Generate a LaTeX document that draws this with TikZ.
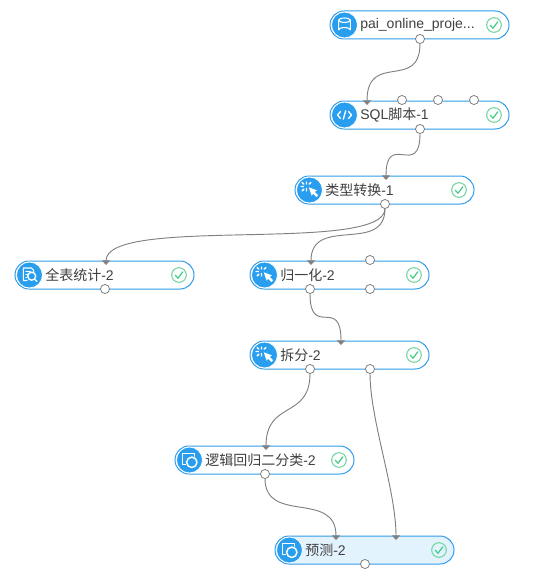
\documentclass[tikz,border=0pt]{standalone}
\usepackage{fontspec}
\setmainfont{Liberation Sans}
\newfontfamily\cjk{Noto Sans CJK SC}
\usetikzlibrary{arrows.meta,shapes.misc}
\definecolor{modblue}{HTML}{2F9CEB}
\definecolor{iconblue}{HTML}{2A9EEE}
\definecolor{wire}{HTML}{808080}
\definecolor{okgreen}{HTML}{3FCB85}
\definecolor{okring}{HTML}{74D5A0}
\definecolor{selfill}{HTML}{E3F3FE}
\definecolor{txt}{HTML}{404040}
\tikzset{
  x=0.75pt,y=-0.75pt,
  modbox/.style={rounded rectangle,draw=modblue,line width=0.75pt,fill=white,minimum width=134.25pt,minimum height=21pt,inner sep=0pt,outer sep=0pt},
  modsel/.style={modbox,fill=selfill},
  iconbg/.style={circle,fill=iconblue,draw=white,line width=0.6pt,minimum size=19.5pt,inner sep=0pt},
  modlabel/.style={anchor=west,inner sep=0pt,text=txt,font=\fontsize{10.5pt}{12pt}\selectfont},
  okmark/.style={circle,draw=okring,line width=0.8pt,minimum size=11pt,inner sep=0pt},
  port/.style={circle,draw=wire,fill=white,line width=0.6pt,minimum size=6.8pt,inner sep=0pt,outer sep=0pt},
  conn/.style={draw=wire,line width=0.7pt,-{Triangle[width=6pt,length=3.4pt,fill=wire]}},
  ico/.style={draw=white,line width=0.8pt,line cap=round,line join=round},
}
% #1 name, #2 left x, #3 centre y, #4 text, #5 icon, #6 box style
\newcommand\modul[6]{%
  \node[#6] (#1) at (#2+89.5,#3) {};
  \node[iconbg] (#1-i) at (#2+14.5,#3) {};
  \begin{scope}[shift={(#2+14.5,#3)}]#5\end{scope}
  \node[modlabel] (#1-t) at (#2+30,#3) {#4};
  \node[okmark] (#1-k) at (#2+164,#3) {};
  \draw[okgreen,line width=0.9pt,line cap=round,line join=round] (#2+160.3,#3+0.3) -- (#2+163,#3+3.2) -- (#2+167.8,#3-3.2);
}
\newcommand\icodb{%
  \draw[ico] (-5.8,-4.8) -- (-5.8,4.8) arc[start angle=180,end angle=360,x radius=5.8,y radius=2.2] -- (5.8,-4.8);
  \draw[ico] (0,-4.8) ellipse[x radius=5.8,y radius=2.2];
}
\newcommand\icocode{%
  \draw[ico,line width=1pt] (-4,-3.5) -- (-7,0) -- (-4,3.5);
  \draw[ico,line width=1pt] (4,-3.5) -- (7,0) -- (4,3.5);
  \draw[ico,line width=1pt] (1.2,-4.2) -- (-1.2,4.2);
}
\newcommand\icoclick{%
  \fill[white] (-0.7,-2.7) -- (7.4,0.4) -- (5.2,1.9) -- (8.6,5.2) -- (6.8,7) -- (3.5,3.7) -- (2.2,5.8) -- cycle;
  \draw[ico,line width=1.1pt] (-3,-8) -- (-3,-6) (-3,-1.5) -- (-3,0.8) (-8.5,-3.5) -- (-6,-3.5) (-7.3,-7.5) -- (-5.6,-5.8) (-7.3,0.8) -- (-5.6,-0.9) (1.3,-7.5) -- (-0.4,-5.8);
}
\newcommand\icosearch{%
  \draw[ico] (-2.5,5.5) -- (-6.2,5.5) -- (-6.2,-7) -- (2,-7) -- (4.2,-4.5) -- (4.2,-2.5);
  \draw[ico] (-3.7,-3.5) -- (0.8,-3.5) (-3.7,-0.5) -- (-2,-0.5) (-3.7,2.5) -- (-2.8,2.5);
  \draw[ico,line width=1pt] (2.2,1.2) circle[radius=4] (5.1,4.1) -- (7.5,6.5);
}
\newcommand\icomodel{%
  \draw[ico,line width=0.9pt] (-2.5,4.5) -- (-6.7,4.5) -- (-6.7,-6.2) -- (4.7,-6.2) -- (4.7,-2.5);
  \fill[iconblue] (2.3,2.3) circle[radius=6.2];
  \draw[ico,line width=1.1pt] (2.3,2.3) circle[radius=5.2];
}
\begin{document}
\begin{tikzpicture}
\useasboundingbox (0,0) rectangle (559,585);
\modul{pai}{330}{25}{pai\_online\_proje...}{\icodb}{modbox}
\modul{sql}{330}{115}{SQL{\cjk 脚本}-1}{\icocode}{modbox}
\modul{lx}{295}{190}{{\cjk 类型转换}-1}{\icoclick}{modbox}
\modul{qb}{15}{275}{{\cjk 全表统计}-2}{\icosearch}{modbox}
\modul{gy}{250}{275}{{\cjk 归一化}-2}{\icoclick}{modbox}
\modul{cf}{250}{355}{{\cjk 拆分}-2}{\icoclick}{modbox}
\modul{lj}{175}{460}{{\cjk 逻辑回归二分类}-2}{\icomodel}{modbox}
\modul{yc}{275}{550}{{\cjk 预测}-2}{\icomodel}{modsel}
% input points
\coordinate (sql-in) at (367,105);
\coordinate (lx-in) at (386,180);
\coordinate (qb-in) at (106,265);
\coordinate (gy-in) at (311,265);
\coordinate (cf-in) at (341,345);
\coordinate (lj-in) at (266,450);
\coordinate (yc-a) at (336,540);
\coordinate (yc-b) at (396,540);
% ports
\node[port] (pai-o) at (420,39) {};
\node[port] (sql-a) at (402,100) {};
\node[port] (sql-b) at (438,100) {};
\node[port] (sql-c) at (474,100) {};
\node[port] (sql-o) at (420,129) {};
\node[port] (lx-o) at (385,204) {};
\node[port] (qb-o) at (105,289) {};
\node[port] (gy-t) at (370,260) {};
\node[port] (gy-o1) at (310,289) {};
\node[port] (gy-o2) at (370,289) {};
\node[port] (cf-o1) at (310,369) {};
\node[port] (cf-o2) at (370,369) {};
\node[port] (lj-o) at (265,474) {};
\node[port] (yc-o) at (365,564) {};
% connectors
\draw[conn] (pai-o.south) .. controls +(0,48) and +(0,-54) .. (sql-in);
\draw[conn] (sql-o.south) .. controls +(0,46) and +(0,-50) .. (lx-in);
\draw[conn] (lx-o.south) .. controls +(0,46) and +(0,-50) .. (qb-in);
\draw[conn] (lx-o.south) .. controls +(0,46) and +(0,-50) .. (gy-in);
\draw[conn] (gy-o1.south) .. controls +(0,46) and +(0,-50) .. (cf-in);
\draw[conn] (cf-o1.south) .. controls +(0,46) and +(0,-50) .. (lj-in);
\draw[conn] (cf-o2.south) .. controls +(0,46) and +(0,-50) .. (yc-b);
\draw[conn] (lj-o.south) .. controls +(0,46) and +(0,-50) .. (yc-a);
\end{tikzpicture}
\end{document}
